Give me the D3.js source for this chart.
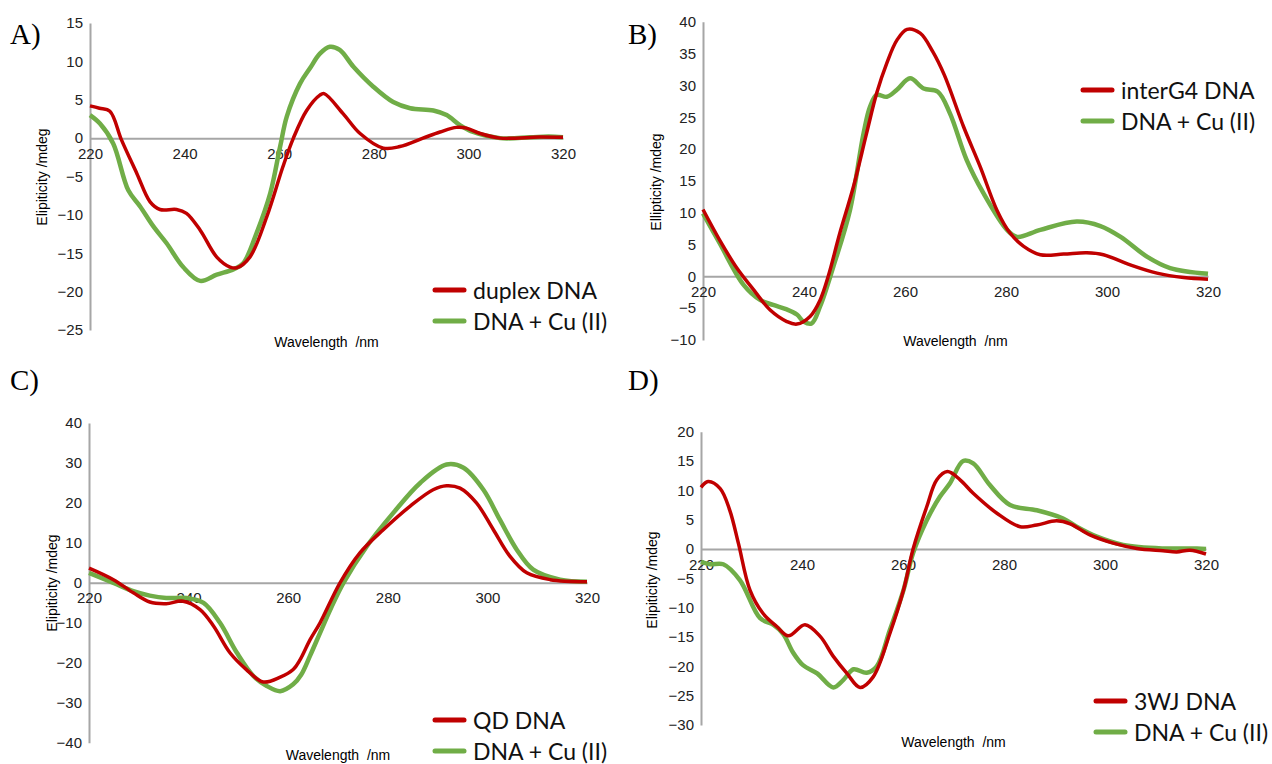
<!DOCTYPE html>
<html>
<head>
<meta charset="utf-8">
<script src="https://cdn.jsdelivr.net/npm/d3@7"></script>
<style>
  body { margin: 0; background: #fff; }
  svg { display: block; }
</style>
</head>
<body>
<div class="canvas"></div>
<script>
// wavelength ticks shared by every panel
const xTicks = [220, 240, 260, 280, 300, 320]

// A) duplex
const duplexDNA = [[220,4.2],[222,3.9],[224.2,3.5],[226.7,-0.3],[229.9,-4.6],[232.7,-8.3],[234.8,-9.3],[238.3,-9.3],[240.4,-9.8],[243.3,-12],[246.8,-15.5],[249.6,-16.8],[251,-16.9],[253.8,-15.5],[257.4,-10.2],[260.8,-3.7],[263,0],[265.8,3.6],[268.6,5.6],[269.5,5.8],[273.5,3.2],[277.1,0.6],[282,-1.3],[285.5,-1.1],[290.4,0],[294,0.8],[297.5,1.4],[299.6,1.3],[302.5,0.6],[306.7,0],[315,0.15],[320,0.1]]
const duplexCu = [[220,3.0],[222.1,1.9],[224.9,-0.7],[228.1,-6.8],[230.6,-8.9],[233.4,-11.5],[236.2,-13.7],[239.7,-16.8],[243.3,-18.6],[246.8,-17.8],[250.3,-17.1],[252.4,-16.3],[255.2,-12.4],[258.1,-7.2],[260.2,-1.1],[261.6,2.8],[264.4,7.1],[266.5,9.1],[268.6,11.0],[270.7,11.9],[272.8,11.5],[275.7,9.3],[279.9,6.7],[284.1,4.7],[287.7,3.9],[292.6,3.6],[295.4,3.0],[298.2,1.7],[301,0.8],[306.7,0],[313,0.1],[317,0.2],[320,0.1]]

// B) interG4
const interG4DNA = [[220,10.5],[223.3,5.7],[226.7,1.3],[230,-2.1],[233.3,-5.3],[236.6,-7.1],[238.6,-7.5],[241.2,-6.3],[243.2,-3.7],[244.8,0],[247.1,6.8],[249.8,14.1],[252.4,22.5],[254.4,28.8],[256.4,33.5],[258.4,37.1],[260.4,38.8],[263,38.2],[265.5,35.3],[267.8,31.6],[271.6,23.5],[274.9,17.2],[278.2,10.4],[280.8,6.8],[283.5,4.7],[286.8,3.4],[291.4,3.5],[296,3.7],[299.3,3.4],[304.6,1.8],[309.9,0.5],[315.2,-0.2],[320,-0.45]]
const interG4Cu = [[220,9.9],[223.3,5.2],[228,-1.3],[231.3,-3.7],[233.9,-4.5],[236.6,-5.2],[238.6,-6.0],[239.9,-7.1],[241.5,-7.4],[243.2,-4.7],[245.8,1.5],[249.1,10.4],[251.8,22.5],[253.1,26.7],[254.4,28.5],[256.4,28.2],[258.4,29.3],[261,31.1],[263.7,29.5],[266.5,29.0],[268.9,25.6],[272.2,18.3],[275.5,13.1],[280.2,7.3],[282.2,6.2],[286.8,7.3],[294,8.6],[298.7,7.9],[302.7,6.2],[307.9,3.1],[312.5,1.3],[320,0.4]]

// C) QD
const qdDNA = [[220,3.7],[224.9,0.8],[228.9,-2.5],[232.2,-4.8],[235.5,-5.2],[238.9,-4.6],[242.3,-6.7],[245,-10.8],[248.3,-17.5],[251.6,-21.7],[255,-24.8],[258.4,-23.6],[261,-21.7],[262.4,-19.2],[264.4,-14.2],[266.4,-10],[270.4,0],[274.4,7.5],[279.1,13.3],[284.5,19.2],[289.1,23.3],[291.8,24.3],[294.5,23.7],[297.8,20],[301.2,13.3],[304.5,6.7],[307.9,2.5],[312.6,0.8],[320,0.3]]
const qdCu = [[220,2.5],[224.9,0],[228.9,-2.1],[232.2,-3.2],[235.5,-3.8],[239.6,-3.8],[243,-5],[246.3,-10],[249.7,-17.5],[253,-23.3],[255.7,-25.8],[258.4,-27.1],[261,-25.4],[262.6,-23],[264.4,-18.2],[266.4,-12.5],[268.6,-6.3],[271.1,0],[275.8,9.2],[281.1,17.5],[286.5,25],[291.8,29.6],[295.2,28.8],[299.2,23.3],[302.5,15.8],[305.9,8.3],[309.2,3.3],[314.6,0.8],[320,0.3]]

// D) 3WJ
const wjDNA = [[220,10.5],[221.4,11.5],[223.8,10.3],[225.7,6.6],[227.4,1.0],[229.7,-7.0],[232.3,-11],[235,-13.2],[237.3,-14.8],[240.6,-12.9],[243.6,-14.9],[246.2,-18.3],[248.9,-21.2],[251.5,-23.6],[254.1,-21.8],[257.4,-14.4],[260.1,-7.0],[262,0],[264.7,7.2],[266.7,11.8],[268.8,13.2],[271.3,11.8],[273.9,9.5],[278.6,6.1],[283.2,3.8],[286.5,4.1],[290.4,4.8],[293.1,4.3],[297,2.4],[301.6,1.0],[306.3,0.1],[311.5,-0.3],[314.2,-0.5],[316.8,-0.2],[320,-0.85]]
const wjCu = [[220,-2.2],[221.8,-2.6],[224.4,-2.6],[227.7,-5.3],[231.7,-11.8],[234.3,-12.9],[236.3,-14.5],[238.2,-17.6],[240.2,-19.8],[243,-21.2],[246.2,-23.6],[248.2,-22.3],[250.2,-20.5],[252.8,-21.1],[254.8,-20.0],[257.4,-13.8],[260.1,-7.0],[262,-0.7],[264.7,4.9],[267.3,8.9],[269.3,11.2],[271.9,15],[273.9,14.6],[277.2,10.9],[281.2,7.5],[286.5,6.6],[291.7,5.2],[294.4,3.8],[298.4,2.1],[303.6,0.7],[311.5,0.1],[318.2,0.1],[320,0]]

const yTicksA = [15, 10, 5, 0, -5, -10, -15, -20, -25]
const yTicksB = [40, 35, 30, 25, 20, 15, 10, 5, 0, -5, -10]
const yTicksC = [40, 30, 20, 10, 0, -10, -20, -30, -40]
const yTicksD = [20, 15, 10, 5, 0, -5, -10, -15, -20, -25, -30]

const red = "#c00000"
const green = "#70ad47"
const axisGrey = "#a6a6a6"

const panels = [
  {tag: "A)", tagX: 10, tagY: 44, x0: 90, x1: 563, yTop: 23, yBot: 330, yDom: [-25, 15], yTicks: yTicksA,
   yTitle: "Elipiticity /mdeg", yTitleX: 43, yTitleY: 177, xTitleY: 347,
   names: ["duplex DNA", "DNA + Cu (II)"], series: [duplexDNA, duplexCu], legX: 435, legY: 290},
  {tag: "B)", tagX: 628, tagY: 44, x0: 703, x1: 1208, yTop: 21.7, yBot: 340, yDom: [-10, 40], yTicks: yTicksB,
   yTitle: "Ellipticity /mdeg", yTitleX: 657, yTitleY: 182, xTitleY: 346,
   names: ["interG4 DNA", "DNA + Cu (II)"], series: [interG4DNA, interG4Cu], legX: 1083, legY: 90},
  {tag: "C)", tagX: 10, tagY: 390, x0: 89, x1: 587, yTop: 423, yBot: 742.7, yDom: [-40, 40], yTicks: yTicksC,
   yTitle: "Elipiticity /mdeg", yTitleX: 53, yTitleY: 583, xTitleY: 760,
   names: ["QD DNA", "DNA + Cu (II)"], series: [qdDNA, qdCu], legX: 435, legY: 720},
  {tag: "D)", tagX: 628, tagY: 390, x0: 701, x1: 1206, yTop: 431.7, yBot: 725, yDom: [-30, 20], yTicks: yTicksD,
   yTitle: "Elipiticity /mdeg", yTitleX: 653, yTitleY: 580, xTitleY: 747,
   names: ["3WJ DNA", "DNA + Cu (II)"], series: [wjDNA, wjCu], legX: 1096, legY: 701}
]

const svg = d3.select(".canvas").append("svg").attr("width", 1272).attr("height", 764)

const drawPanel = p => {
  const x = d3.scaleLinear().domain([220, 320]).range([p.x0, p.x1])
  const y = d3.scaleLinear().domain(p.yDom).range([p.yBot, p.yTop])
  const g = svg.append("g")

  // y axis, no tick marks
  const yAxis = d3.axisLeft(y).tickValues(p.yTicks).tickSize(0).tickPadding(7)
  const yg = g.append("g").attr("transform", `translate(${p.x0},0)`).call(yAxis)
  yg.select(".domain").attr("stroke", axisGrey).attr("stroke-width", 2)
  yg.selectAll("text").attr("font-family", "Liberation Sans, Arial").attr("font-size", 15).attr("fill", "#222")

  // x axis sits on zero
  const xAxis = d3.axisBottom(x).tickValues(xTicks).tickSize(0).tickPadding(10)
  const xg = g.append("g").attr("transform", `translate(0,${y(0)})`).call(xAxis)
  xg.select(".domain").attr("stroke", axisGrey).attr("stroke-width", 2)
  xg.selectAll("text").attr("font-family", "Liberation Sans, Arial").attr("font-size", 15).attr("fill", "#222")

  const line = d3.line().x(d => x(d[0])).y(d => y(d[1])).curve(d3.curveCatmullRom.alpha(0.5))
  const colors = [red, green]
  const widths = [3.5, 4.5]
  // green drawn first so red stays on top
  ;[1, 0].forEach(i => {
    g.append("path").datum(p.series[i])
      .attr("fill", "none").attr("stroke", colors[i]).attr("stroke-width", widths[i])
      .attr("stroke-linejoin", "round").attr("d", line)
  })

  g.append("text").attr("x", p.tagX).attr("y", p.tagY)
    .attr("font-family", "Liberation Serif, Times New Roman").attr("font-size", 29).text(p.tag)

  g.append("text").attr("transform", `translate(${p.yTitleX},${p.yTitleY}) rotate(-90)`)
    .attr("text-anchor", "middle").attr("dominant-baseline", "middle")
    .attr("font-family", "Liberation Sans, Arial").attr("font-size", 14).text(p.yTitle)

  g.append("text").attr("x", (p.x0 + p.x1) / 2).attr("y", p.xTitleY)
    .attr("text-anchor", "middle").attr("font-family", "Liberation Sans, Arial").attr("font-size", 14)
    .attr("xml:space", "preserve").text("Wavelength  /nm")

  // legend
  p.names.forEach((name, i) => {
    const ly = p.legY + i * 31
    g.append("line").attr("x1", p.legX).attr("x2", p.legX + 29).attr("y1", ly).attr("y2", ly)
      .attr("stroke", colors[i]).attr("stroke-width", 5).attr("stroke-linecap", "round")
    g.append("text").attr("x", p.legX + 38).attr("y", ly).attr("dominant-baseline", "central")
      .attr("font-family", "Lato, Carlito, Calibri").attr("font-size", 23).attr("fill", "#111").text(name)
  })
}

panels.forEach(drawPanel)
</script>
</body>
</html>
